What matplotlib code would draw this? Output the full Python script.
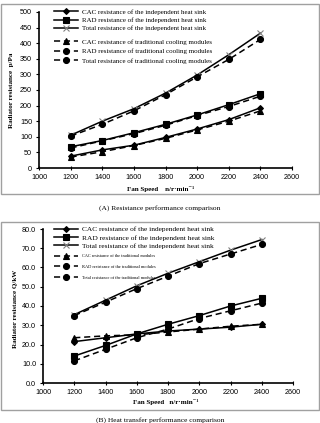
import matplotlib.pyplot as plt
from matplotlib.patches import Rectangle
from matplotlib.ticker import FormatStrFormatter

# fan speed, n/r*min^-1
speed = [1200, 1400, 1600, 1800, 2000, 2200, 2400]

# (A) resistance p/Pa
a_cac_ind = [38, 58, 73, 98, 125, 155, 193]
a_rad_ind = [68, 88, 113, 140, 170, 203, 238]
a_tot_ind = [105, 150, 190, 240, 298, 363, 432]
a_cac_trad = [35, 52, 72, 95, 122, 150, 183]
a_rad_trad = [64, 87, 110, 137, 168, 197, 230]
a_tot_trad = [102, 140, 183, 235, 292, 348, 412]

# (B) heat transfer Q/kW
b_cac_ind = [21.5, 23.5, 25.5, 27.0, 28.0, 29.0, 30.5]
b_rad_ind = [14.0, 19.5, 25.5, 30.5, 35.0, 40.0, 44.0]
b_tot_ind = [35.5, 43.0, 50.5, 57.0, 63.0, 69.0, 74.5]
b_cac_trad = [23.5, 24.5, 25.0, 26.5, 28.0, 29.5, 30.5]
b_rad_trad = [11.5, 17.5, 23.5, 28.0, 33.5, 37.5, 41.5]
b_tot_trad = [35.0, 42.0, 49.0, 55.5, 62.0, 67.0, 72.0]

labels_a = ["CAC resistance of the independent heat sink",
            "RAD resistance of the independent heat sink",
            "Total resistance of the independent heat sink",
            "CAC resistance of traditional cooling modules",
            "RAD resistance of traditional cooling modules",
            "Total resistance of traditional cooling modules"]
labels_b = ["CAC resistance of the independent heat sink",
            "RAD resistance of the independent heat sink",
            "Total resistance of the independent heat sink",
            "CAC resistance of the traditional modules",
            "RAD resistance of the traditional modules",
            "Total resistance of the traditional modules"]

W, H = 320, 423
fig = plt.figure(figsize=(W / 100, H / 100), dpi=100)

serif = ['Liberation Serif', 'DejaVu Serif']
sans = 'Liberation Sans'


def px(x0, y0, x1, y1):
    # pixel box (top-left origin) -> figure rect
    return [x0 / W, 1 - y1 / H, (x1 - x0) / W, (y1 - y0) / H]


def draw_panel(rect, series, labels, ylim, yticks, yfmt, leg1, leg2):
    ax = fig.add_axes(rect)
    styles = [('-', 'D', 'black', 3), ('-', 's', 'black', 4), ('-', 'x', 'gray', 4.5),
              ((0, (4, 2.5)), '^', 'black', 4.5), ((0, (4, 2.5)), 'o', 'black', 4.3),
              ((0, (4, 2.5)), 'o', 'black', 4.3)]
    handles = []
    for vals, (ls, mk, mc, ms) in zip(series, styles):
        h, = ax.plot(speed, vals, color='black', linestyle=ls, linewidth=1.1,
                     marker=mk, markersize=ms, markerfacecolor=mc,
                     markeredgecolor=mc, markeredgewidth=0.8)
        handles.append(h)
    ax.set_xlim(1000, 2600)
    ax.set_ylim(*ylim)
    ax.set_xticks(range(1000, 2601, 200))
    ax.set_yticks(yticks)
    ax.yaxis.set_major_formatter(FormatStrFormatter(yfmt))
    for s in ['top', 'right']:
        ax.spines[s].set_visible(False)
    for s in ['left', 'bottom']:
        ax.spines[s].set_linewidth(1.2)
    ax.tick_params(axis='y', direction='out', length=2, width=0.8, pad=3,
                   labelsize=5.2, labelfontfamily=sans)
    ax.tick_params(axis='x', direction='inout', length=2.5, width=0.8, pad=3,
                   labelsize=5.2, labelfontfamily=sans)
    # two legend groups: (x, y, fontsize, labelspacing)
    groups = [(leg1, handles[:3], labels[:3]), (leg2, handles[3:], labels[3:])]
    for i, ((lx, ly, fs, sp), hs, ls) in enumerate(groups):
        lg = ax.legend(hs, ls, loc='upper left',
                       bbox_to_anchor=(lx / W, 1 - ly / H),
                       bbox_transform=fig.transFigure, frameon=False,
                       prop={'family': serif, 'size': fs},
                       handlelength=17.5 / fs, handletextpad=2.4 / fs,
                       labelspacing=sp, borderpad=0, borderaxespad=0,
                       numpoints=1)
        if i == 0:
            ax.add_artist(lg)
    return ax


# frames round the two panels
for y0, y1 in [(4, 194), (222, 410)]:
    fig.patches.append(Rectangle((1 / W, 1 - y1 / H), 318 / W, (y1 - y0) / H,
                                 transform=fig.transFigure, fill=False,
                                 edgecolor='#a0a0a0', linewidth=1))

draw_panel(px(39, 12, 292, 168),
           [a_cac_ind, a_rad_ind, a_tot_ind, a_cac_trad, a_rad_trad, a_tot_trad],
           labels_a, (0, 500), range(0, 501, 50), '%d',
           (54, 9, 5.0, 0.35), (54, 39, 5.0, 0.5))
draw_panel(px(43, 229, 293, 383),
           [b_cac_ind, b_rad_ind, b_tot_ind, b_cac_trad, b_rad_trad, b_tot_trad],
           labels_b, (0, 80), range(0, 81, 10), '%.1f',
           (54, 226, 5.3, 0.3), (54, 254, 3.2, 1.5))

fig.text(12 / W, 1 - 90 / H, "Radiator resistance  p/Pa", rotation=90,
         ha='center', va='center', fontsize=5, fontweight='bold', family=serif)
fig.text(15 / W, 1 - 309 / H, "Radiator resistance Q/kW", rotation=90,
         ha='center', va='center', fontsize=5, fontweight='bold', family=serif)
fig.text(161 / W, 1 - 189 / H, "Fan Speed    n/r\u00b7min\u207b\u00b9",
         ha='center', va='center', fontsize=5, fontweight='bold', family=serif)
fig.text(166 / W, 1 - 402 / H, "Fan Speed   n/r\u00b7min\u207b\u00b9",
         ha='center', va='center', fontsize=5, fontweight='bold', family=serif)
fig.text(160 / W, 1 - 208 / H, "(A) Resistance performance comparison",
         ha='center', va='center', fontsize=5.4, family=serif)
fig.text(160 / W, 1 - 420 / H, "(B) Heat transfer performance comparison",
         ha='center', va='center', fontsize=5.4, family=serif)

fig.savefig('out.png', dpi=100)
